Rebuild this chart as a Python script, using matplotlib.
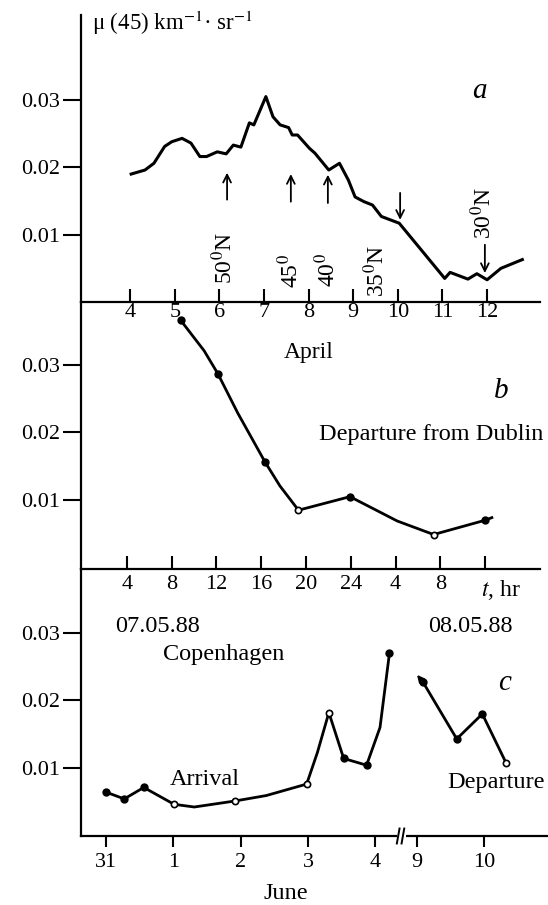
import numpy as np
import matplotlib
matplotlib.use("Agg")
from matplotlib import pyplot as plt

plt.rcParams['font.family'] = ['Liberation Serif', 'DejaVu Serif']
plt.rcParams['mathtext.fontset'] = 'stix'

# ---- panel a: abril (dias) ----
dias_a = [4.02, 4.33, 4.53, 4.77, 4.93, 5.16, 5.36, 5.56, 5.71, 5.95, 6.15, 6.31,
          6.48, 6.67, 6.77, 7.04, 7.20, 7.36, 7.55, 7.63, 7.75, 8.02, 8.14, 8.45,
          8.69, 8.89, 9.04, 9.24, 9.43, 9.63, 10.03, 11.05, 11.17, 11.57, 11.77,
          12.0, 12.31, 12.79]
mu_a = [0.0190, 0.0196, 0.0206, 0.0231, 0.0238, 0.0243, 0.0236, 0.0216, 0.0216,
        0.0223, 0.0220, 0.0233, 0.0230, 0.0266, 0.0263, 0.0305, 0.0275, 0.0263,
        0.0259, 0.0248, 0.0248, 0.0228, 0.0221, 0.0196, 0.0206, 0.0181, 0.0156,
        0.0149, 0.0144, 0.0127, 0.0117, 0.0035, 0.0044, 0.0034, 0.0042, 0.0033,
        0.0050, 0.0063]
ticks_a = [4, 5, 6, 7, 8, 9, 10, 11, 12]

# flechas y latitudes
flecha_dia = [6.17, 7.60, 8.43, 10.05, 11.95]
flecha_desde = [0.0152, 0.0149, 0.0147, 0.0162, 0.0085]
flecha_hasta = [0.0192, 0.0190, 0.0189, 0.0122, 0.0043]
lat_txt = ["50$^0$N", "45$^0$", "40$^0$", "35$^0$N", "30$^0$N"]
lat_dia = [6.10, 7.58, 8.41, 9.51, 11.91]
lat_mu = [0.0065, 0.0046, 0.0048, 0.0046, 0.0132]

# ---- panel b: horas desde 07.05.88 ----
horas_b = [8.81, 10.9, 12.13, 13.9, 16.32, 17.67, 19.33, 23.93, 28.15, 31.4, 35.97, 36.6]
mu_b = [0.0366, 0.0321, 0.0287, 0.0229, 0.0157, 0.0121, 0.0085, 0.0105, 0.0069,
        0.0049, 0.0070, 0.0074]
puntos_b_llenos = [8.81, 12.13, 16.32, 23.93, 35.97]
mu_b_llenos = [0.0366, 0.0287, 0.0157, 0.0105, 0.0070]
puntos_b_vacios = [19.33, 31.4]
mu_b_vacios = [0.0085, 0.0049]
ticks_b = [4, 8, 12, 16, 20, 24, 28, 32, 36]
etiq_b = ["4", "8", "12", "16", "20", "24", "4", "8", ""]

# ---- panel c: junio ----
# tramo 1 (0 = 31 mayo)
dias_c1 = [0.0, 0.27, 0.56, 1.01, 1.31, 1.92, 2.38, 2.98, 3.14, 3.31, 3.53, 3.87, 4.07, 4.21]
mu_c1 = [0.0064, 0.0054, 0.0071, 0.0046, 0.0042, 0.0051, 0.0059, 0.0076, 0.0123,
         0.0182, 0.0114, 0.0104, 0.0160, 0.0270]
c1_llenos = [0.0, 0.27, 0.56, 3.53, 3.87, 4.21]
mu_c1_llenos = [0.0064, 0.0054, 0.0071, 0.0114, 0.0104, 0.0270]
c1_vacios = [1.01, 1.92, 2.98, 3.31]
mu_c1_vacios = [0.0046, 0.0051, 0.0076, 0.0182]
# tramo 2 (dias de junio)
dias_c2 = [9.0, 9.09, 9.59, 9.97, 10.32]
mu_c2 = [0.0238, 0.0227, 0.0143, 0.0180, 0.0108]
c2_llenos = [9.09, 9.59, 9.97]
mu_c2_llenos = [0.0227, 0.0143, 0.0180]
c2_vacios = [10.32]
mu_c2_vacios = [0.0108]
desplaz = -4.38   # corte del eje entre el 4 y el 9
ticks_c = [0, 1, 2, 3, 4, 9 + desplaz, 10 + desplaz]
etiq_c = ["31", "1", "2", "3", "4", "9", "10"]

W, H = 548, 905


def rect(x0, y0, x1, y1):
    return [x0 / W, 1 - y1 / H, (x1 - x0) / W, (y1 - y0) / H]


def txt(x, y, s, **kw):
    fig.text(x / W, 1 - y / H, s, **kw)


fig = plt.figure(figsize=(5.48, 9.05), dpi=100)
ax_a = fig.add_axes(rect(81, 15, 540, 302))
ax_b = fig.add_axes(rect(81, 302, 540, 569))
ax_c = fig.add_axes(rect(81, 569, 548, 836))

for ax in (ax_a, ax_b, ax_c):
    ax.spines['top'].set_visible(False)
    ax.spines['right'].set_visible(False)
    ax.spines['left'].set_linewidth(1.6)
    ax.spines['bottom'].set_linewidth(1.6)
    ax.set_yticks([0.01, 0.02, 0.03])
    ax.set_yticklabels(["0.01", "0.02", "0.03"])
    ax.tick_params(axis='y', direction='out', length=13, width=1.5, pad=2, labelsize=16)
    ax.patch.set_alpha(0)

# panel a
ax_a.plot(dias_a, mu_a, color='black', lw=2.2, solid_joinstyle='round')
ax_a.set_xlim(2.895, 13.186)
ax_a.set_ylim(0, 0.04262)
ax_a.set_xticks(ticks_a)
ax_a.set_xticklabels([str(t) for t in ticks_a])
ax_a.tick_params(axis='x', direction='in', length=9.5, width=1.5, pad=1, labelsize=16)
for d, y0, y1 in zip(flecha_dia, flecha_desde, flecha_hasta):
    ax_a.annotate("", xy=(d, y1), xytext=(d, y0),
                  arrowprops=dict(arrowstyle='->', lw=1.3, color='black', mutation_scale=14,
                                  shrinkA=0, shrinkB=0))
for s, d, y in zip(lat_txt, lat_dia, lat_mu):
    ax_a.text(d, y, s, rotation=90, ha='center', va='center', fontsize=17)

# panel b
ax_b.plot(horas_b, mu_b, color='black', lw=2.0)
ax_b.plot(puntos_b_llenos, mu_b_llenos, 'o', color='black', ms=5)
ax_b.plot(puntos_b_vacios, mu_b_vacios, 'o', mfc='white', mec='black', mew=1.2, ms=4.5)
ax_b.set_xlim(-0.09, 40.9)
ax_b.set_ylim(-0.0002, 0.0393)
ax_b.set_xticks(ticks_b)
ax_b.set_xticklabels(etiq_b)
ax_b.tick_params(axis='x', direction='in', length=9.5, width=1.5, pad=4.5, labelsize=16)

# panel c
ax_c.plot(dias_c1, mu_c1, color='black', lw=2.0)
ax_c.plot(c1_llenos, mu_c1_llenos, 'o', color='black', ms=5)
ax_c.plot(c1_vacios, mu_c1_vacios, 'o', mfc='white', mec='black', mew=1.2, ms=4.5)
x2 = np.array(dias_c2) + desplaz
ax_c.plot(x2[1:], mu_c2[1:], color='black', lw=2.0)
ax_c.annotate("", xy=(x2[0], mu_c2[0]), xytext=(x2[1], mu_c2[1]),
              arrowprops=dict(arrowstyle='-|>', lw=1.5, color='black', mutation_scale=10,
                              shrinkA=0, shrinkB=0))
ax_c.plot(np.array(c2_llenos) + desplaz, mu_c2_llenos, 'o', color='black', ms=5)
ax_c.plot(np.array(c2_vacios) + desplaz, mu_c2_vacios, 'o', mfc='white', mec='black',
          mew=1.2, ms=4.5)
ax_c.set_xlim(-0.373, 6.566)
ax_c.set_ylim(-0.0001, 0.0395)
ax_c.set_xticks(ticks_c)
ax_c.set_xticklabels(etiq_c)
ax_c.tick_params(axis='x', direction='out', length=8, width=1.5, pad=4.5, labelsize=16)
ax_c.spines['bottom'].set_bounds(-0.373, 4.31)
tr = ax_c.get_xaxis_transform()
ax_c.plot([4.46, 6.566], [0, 0], color='black', lw=1.6, transform=tr, clip_on=False,
          solid_capstyle='butt')
for xb in (4.34, 4.41):
    ax_c.plot([xb - 0.02, xb + 0.02], [-0.028, 0.028], color='black', lw=1.4,
              transform=tr, clip_on=False)

# textos
txt(92, 30, r"μ (45) km$^{-1}$· sr$^{-1}$", ha='left', va='baseline', fontsize=16.5)
txt(479, 98, "a", ha='center', va='baseline', fontsize=21, style='italic')
txt(309, 358, "April", ha='center', va='baseline', fontsize=17)
txt(501, 398, "b", ha='center', va='baseline', fontsize=21, style='italic')
txt(543, 440, "Departure from Dublin", ha='right', va='baseline', fontsize=17.5)
txt(481, 596, r"$t$, hr", ha='left', va='baseline', fontsize=17)
txt(157, 632, "07.05.88", ha='center', va='baseline', fontsize=17.5)
txt(470, 632, "08.05.88", ha='center', va='baseline', fontsize=17.5)
txt(224, 660, "Copenhagen", ha='center', va='baseline', fontsize=17.5)
txt(505, 690, "c", ha='center', va='baseline', fontsize=21, style='italic')
txt(205, 785, "Arrival", ha='center', va='baseline', fontsize=17.5)
txt(496, 788, "Departure", ha='center', va='baseline', fontsize=17.5)
txt(286, 899, "June", ha='center', va='baseline', fontsize=17.5)

fig.savefig("out.png", dpi=100)
